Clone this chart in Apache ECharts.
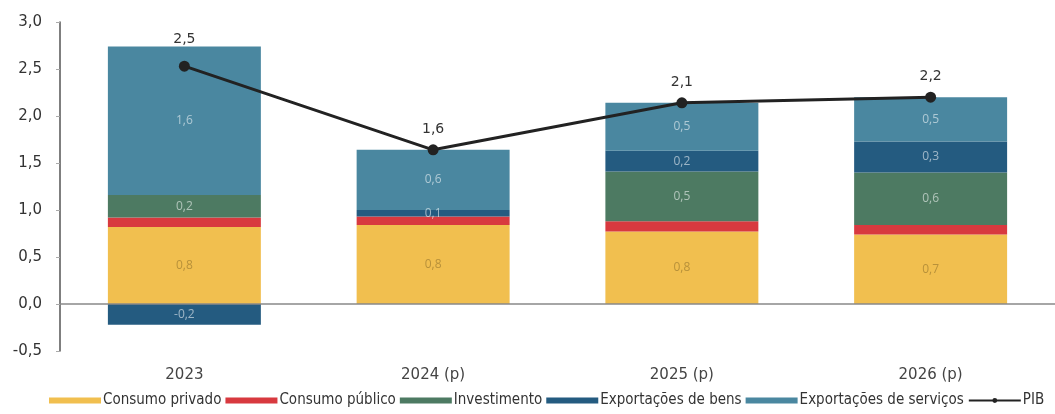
<!DOCTYPE html>
<html><head><meta charset="utf-8">
<script src="https://cdn.jsdelivr.net/npm/echarts@6/dist/echarts.min.js"></script>
<style>html,body{margin:0;padding:0;background:#fff}#c{width:1055px;height:414px}</style>
</head><body><div id="c"></div>
<script>
const categories = ['2023', '2024 (p)', '2025 (p)', '2026 (p)'];
const consumoPrivado = [0.82, 0.84, 0.77, 0.74];
const consumoPublico = [0.10, 0.09, 0.11, 0.10];
const investimento = [0.24, 0, 0.53, 0.56];
const exportBens = [-0.22, 0.07, 0.22, 0.33];
const exportServicos = [1.58, 0.64, 0.51, 0.47];
const pib = [2.53, 1.64, 2.14, 2.2];
const yTicks = { min: -0.5, max: 3.0, interval: 0.5 };

const fmt = v => Number(v).toFixed(1).replace('.', ',');
const chart = echarts.init(document.getElementById('c'));
function barSeries(name, data, color, labelColor, showLabel) {
  return {
    name, type: 'bar', stack: 'a', data, barWidth: '61.5%',
    itemStyle: { color },
    label: {
      show: true, position: 'inside', color: labelColor, fontSize: 12,
      fontFamily: 'Open Sans, sans-serif',
      formatter: p => (showLabel && Math.abs(p.value) > 0.05 ? fmt(p.value) : '')
    }
  };
}
const pibData = pib.map((v, i) => i === 0 ? { value: v, label: { distance: 14 } } : v);
const series = [
  barSeries('Consumo privado', consumoPrivado, '#f1bf4f', '#b8913a', true),
  barSeries('Consumo público', consumoPublico, '#d8393f', '#fff', false),
  barSeries('Investimento', investimento, '#4d7a62', 'rgba(255,255,255,0.55)', true),
  barSeries('Exportações de bens', exportBens, '#245b80', 'rgba(255,255,255,0.55)', true),
  barSeries('Exportações de serviços', exportServicos, '#4a87a0', 'rgba(255,255,255,0.55)', true),
  {
    name: 'PIB', type: 'line', data: pibData, symbol: 'circle', symbolSize: 11,
    lineStyle: { color: '#222', width: 3 }, itemStyle: { color: '#222' },
    label: { show: true, position: 'top', distance: 8, color: '#333', fontSize: 14,
      fontFamily: 'DejaVu Sans, sans-serif', formatter: p => fmt(p.value) },
    z: 10,
    markLine: { silent: true, symbol: 'none', label: { show: false },
      lineStyle: { color: '#888', type: 'solid', width: 1.5 }, data: [{ yAxis: 0 }] }
  }
];
chart.setOption({
  animation: false,
  grid: { left: 60, right: -13, top: 22, bottom: 63 },
  xAxis: {
    type: 'category', data: categories,
    axisLine: { show: false }, axisTick: { show: false },
    axisLabel: { color: '#444', fontSize: 15, margin: 17, fontFamily: 'DejaVu Sans, sans-serif' }
  },
  yAxis: {
    type: 'value', min: yTicks.min, max: yTicks.max, interval: yTicks.interval,
    splitLine: { show: false },
    axisLine: { show: true, lineStyle: { color: '#555', width: 1.5 } },
    axisTick: { show: true, length: 4, lineStyle: { color: '#aaa' } },
    axisLabel: { color: '#333', fontSize: 15, margin: 18, fontFamily: 'DejaVu Sans, sans-serif', formatter: v => fmt(v) }
  },
  legend: {
    bottom: 1, left: 44, itemGap: 4, itemWidth: 52, itemHeight: 6,
    textStyle: { fontSize: 15, color: '#333', padding: [0, 0, 0, -3],
      fontFamily: "'Liberation Sans Narrow', 'DejaVu Sans Condensed', sans-serif" },
    data: [
      { name: 'Consumo privado', icon: 'rect' },
      { name: 'Consumo público', icon: 'rect' },
      { name: 'Investimento', icon: 'rect' },
      { name: 'Exportações de bens', icon: 'rect' },
      { name: 'Exportações de serviços', icon: 'rect' },
      { name: 'PIB' }
    ]
  },
  series
});
</script></body></html>
